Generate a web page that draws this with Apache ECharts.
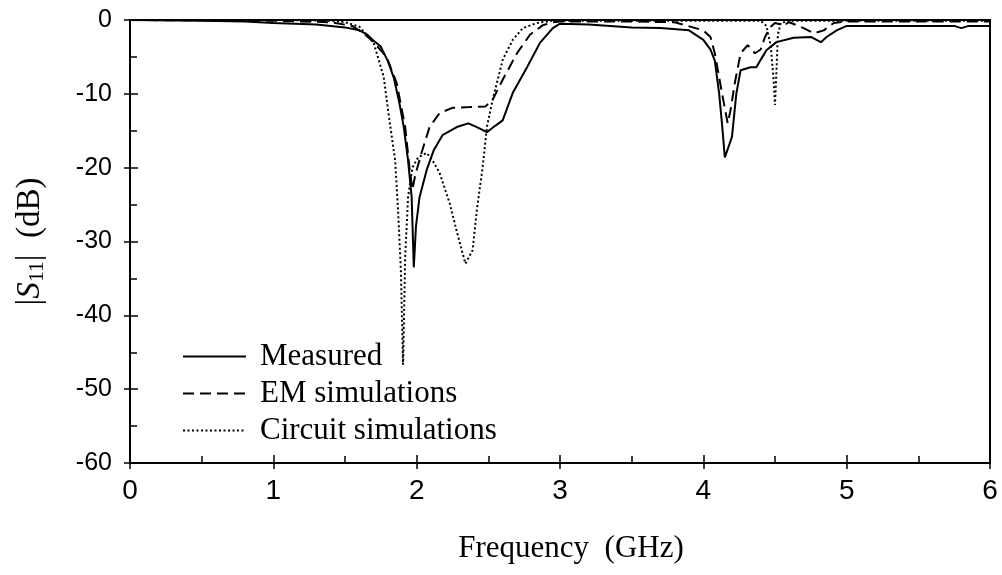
<!DOCTYPE html>
<html><head><meta charset="utf-8">
<script src="https://cdn.jsdelivr.net/npm/echarts@6/dist/echarts.min.js"></script>
<style>html,body{margin:0;padding:0;background:#fff}#c{width:1002px;height:575px}</style>
</head><body><div id="c"></div>
<script>
// Measured
var measuredFreq = [0,0.5,0.8,1.0,1.3,1.5,1.6,1.65,1.7,1.75,1.8,1.84,1.88,1.91,1.94,1.965,1.98,1.995,2.02,2.07,2.12,2.18,2.28,2.36,2.42,2.49,2.55,2.6,2.67,2.77,2.86,2.95,3.0,3.2,3.5,3.7,3.9,4.0,4.05,4.08,4.11,4.13,4.15,4.17,4.2,4.23,4.26,4.33,4.37,4.40,4.44,4.51,4.63,4.75,4.82,4.86,4.93,5.0,5.5,5.75,5.8,5.85,6.0];
var measuredDb = [0,-0.1,-0.2,-0.4,-0.6,-1.0,-1.4,-1.9,-2.8,-3.6,-5.6,-7.8,-11.3,-14.5,-19,-24,-33.5,-28,-24,-20.3,-17.6,-15.6,-14.5,-14,-14.5,-15.2,-14.3,-13.6,-9.9,-6.4,-3.1,-1.1,-0.5,-0.6,-1.0,-1.1,-1.4,-2.7,-4,-5.5,-9.9,-14,-18.6,-17.5,-15.8,-10,-6.8,-6.4,-6.4,-5.4,-4.1,-3.0,-2.4,-2.3,-3.0,-2.3,-1.4,-0.8,-0.8,-0.8,-1.1,-0.8,-0.8];
// EM simulations
var emFreq = [0,1.0,1.4,1.55,1.63,1.7,1.79,1.86,1.92,1.95,1.97,1.99,2.04,2.09,2.16,2.25,2.37,2.48,2.53,2.6,2.7,2.79,2.88,2.95,3.0,3.5,3.8,4.0,4.05,4.08,4.13,4.17,4.19,4.22,4.26,4.31,4.36,4.40,4.43,4.47,4.5,4.56,4.6,4.7,4.77,4.84,4.91,5.0,6.0];
var emDb = [0,-0.1,-0.3,-0.8,-1.8,-3,-5,-8.5,-14.5,-20,-23,-21,-17.6,-14.5,-12.6,-11.9,-11.8,-11.7,-10.8,-8.1,-4.5,-2,-0.7,-0.3,-0.2,-0.2,-0.3,-1.4,-2.3,-4.5,-9.9,-14,-12.2,-8.5,-4.5,-3.4,-4.5,-4,-2.3,-0.9,-0.4,-0.7,-0.3,-1.1,-1.8,-1.4,-0.4,-0.2,-0.2];
// Circuit simulations
var circuitFreq = [0,1.0,1.4,1.5,1.6,1.70,1.77,1.81,1.85,1.87,1.89,1.905,1.92,1.94,1.97,2.01,2.07,2.11,2.16,2.23,2.29,2.34,2.39,2.42,2.46,2.49,2.53,2.56,2.6,2.67,2.74,2.84,2.95,4.4,4.44,4.47,4.49,4.50,4.51,4.52,4.54,4.6,6.0];
var circuitDb = [0,0,-0.1,-0.3,-0.9,-3.1,-7.7,-13.6,-19,-25.7,-34,-46.7,-32,-24,-20,-18.6,-18,-19,-20.7,-24.8,-29.4,-33,-31.2,-25.7,-20,-14.5,-10.8,-8.5,-5.4,-2.7,-1.1,-0.4,-0.1,-0.1,-0.8,-3.5,-8,-11.5,-7,-2,-0.4,-0.1,-0.1];
var seriesNames = ['Measured','EM simulations','Circuit simulations'];

function pairs(xs, ys){ return xs.map(function(x,i){ return [x, ys[i]]; }); }

var chart = echarts.init(document.getElementById('c'));
var serif = 'Liberation Serif, Times New Roman, serif';
var tickStyle = {color:'#000',width:1.5};
chart.setOption({
  animation:false,
  backgroundColor:'#fff',
  grid:{left:130,right:12,top:20,bottom:112,show:true,borderColor:'#000',borderWidth:2,backgroundColor:'transparent'},
  legend:{
    left:177, top:336, orient:'vertical', itemWidth:63, itemHeight:14, itemGap:6,
    data:seriesNames,
    itemStyle:{opacity:0},
    textStyle:{fontFamily:serif,fontSize:31,color:'#000',padding:[0,0,0,9]}
  },
  xAxis:[{
    type:'value',min:0,max:6,interval:1,
    name:'Frequency  (GHz)',nameLocation:'middle',nameGap:70,
    nameTextStyle:{fontFamily:serif,fontSize:31,color:'#000',padding:[0,0,0,22]},
    axisLine:{onZero:false,lineStyle:{color:'#000',width:2}},
    axisTick:{inside:true,length:8,lineStyle:tickStyle},
    minorTick:{show:true,splitNumber:2,length:7,lineStyle:tickStyle},
    splitLine:{show:false},
    axisLabel:{fontFamily:'Liberation Sans Narrow, Arial Narrow, Liberation Sans, sans-serif',fontSize:28,color:'#000',margin:14}
  },{
    type:'value',min:0,max:6,interval:1,position:'bottom',
    axisLine:{show:false,onZero:false},axisLabel:{show:false},splitLine:{show:false},
    axisTick:{inside:false,length:6,lineStyle:tickStyle}
  }],
  yAxis:[{
    type:'value',min:-60,max:0,interval:10,
    name:'{a||}{s|S}{sub|11}{a||  (dB)}',nameLocation:'middle',nameGap:82,nameRotate:90,
    nameTextStyle:{rich:{
      a:{fontFamily:serif,fontSize:33,color:'#000'},
      s:{fontFamily:serif,fontStyle:'italic',fontSize:33,color:'#000'},
      sub:{fontFamily:serif,fontSize:22,color:'#000',verticalAlign:'bottom',padding:[14,0,0,0]}
    }},
    axisLine:{onZero:false,lineStyle:{color:'#000',width:2}},
    axisTick:{inside:true,length:8,lineStyle:tickStyle},
    minorTick:{show:true,splitNumber:2,length:7,lineStyle:tickStyle},
    splitLine:{show:false},
    axisLabel:{fontFamily:'Liberation Sans, Arial, sans-serif',fontSize:25,color:'#000',margin:18}
  },{
    type:'value',min:-60,max:0,interval:10,position:'left',
    axisLine:{show:false,onZero:false},axisLabel:{show:false},splitLine:{show:false},
    axisTick:{inside:false,length:6,lineStyle:tickStyle}
  }],
  series:[
    {name:seriesNames[0],type:'line',showSymbol:false,symbol:'none',data:pairs(measuredFreq,measuredDb),
     lineStyle:{color:'#000',width:2,type:'solid'},itemStyle:{color:'#000'}},
    {name:seriesNames[1],type:'line',showSymbol:false,symbol:'none',data:pairs(emFreq,emDb),
     lineStyle:{color:'#000',width:2,type:[11,6]},itemStyle:{color:'#000'}},
    {name:seriesNames[2],type:'line',showSymbol:false,symbol:'none',data:pairs(circuitFreq,circuitDb),
     lineStyle:{color:'#000',width:2,type:[2,2.5]},itemStyle:{color:'#000'}}
  ]
});
</script></body></html>
